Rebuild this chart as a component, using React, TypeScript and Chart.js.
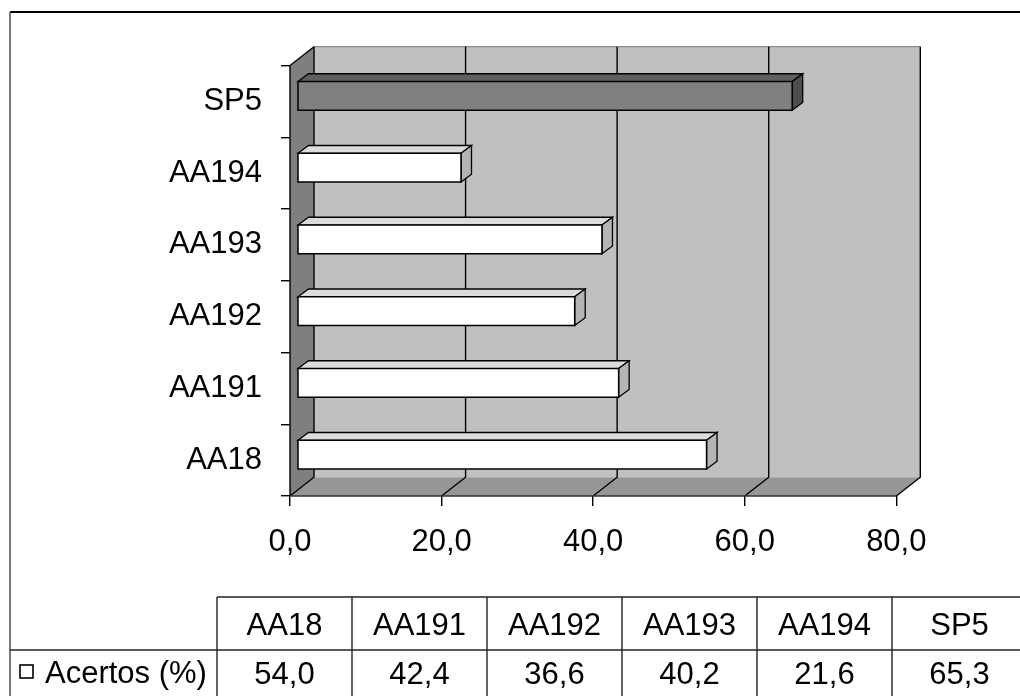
import React, { useEffect, useRef } from "react";
import { Chart, registerables } from "chart.js";

Chart.register(...registerables);

// Categories (bottom to top on the chart, left to right in the table)
const categories = ["AA18", "AA191", "AA192", "AA193", "AA194", "SP5"];
// Percentage of correct answers per sample
const acertos = [54.0, 42.4, 36.6, 40.2, 21.6, 65.3];
const seriesName = "Acertos (%)";
const highlighted = "SP5";
// Value-axis ticks
const valueTicks = [0, 20, 40, 60, 80];

const FONT = '"Liberation Sans", Arial, Helvetica, sans-serif';
const FONT_SIZE = 31;
const fmt = (v: number) => v.toFixed(1).replace(".", ",");

// 3-D projection offsets
const WALL = { dx: 24, dy: -18.8 };
const BAR_OFF = { dx: 7.3, dy: -5.5 };
const BAR_DEPTH = { dx: 10.5, dy: -7.8 };

type Pt = [number, number];

function fillPoly(ctx: CanvasRenderingContext2D, pts: Pt[], fill: string, stroke?: string, lw = 1) {
  ctx.beginPath();
  ctx.moveTo(pts[0][0], pts[0][1]);
  for (let i = 1; i < pts.length; i++) ctx.lineTo(pts[i][0], pts[i][1]);
  ctx.closePath();
  ctx.fillStyle = fill;
  ctx.fill();
  if (stroke) {
    ctx.strokeStyle = stroke;
    ctx.lineWidth = lw;
    ctx.lineJoin = "miter";
    ctx.stroke();
  }
}

function polyline(ctx: CanvasRenderingContext2D, pts: Pt[], color: string, lw: number) {
  ctx.beginPath();
  ctx.moveTo(pts[0][0], pts[0][1]);
  for (let i = 1; i < pts.length; i++) ctx.lineTo(pts[i][0], pts[i][1]);
  ctx.strokeStyle = color;
  ctx.lineWidth = lw;
  ctx.stroke();
}

// Back wall, side wall, floor and the gridlines on them; then the 3-D bars
const wallsPlugin = {
  id: "walls3d",
  beforeDatasetsDraw(chart: any) {
    const { ctx, chartArea: a } = chart;
    const xs = chart.scales.x;
    const { dx, dy } = WALL;
    const L = a.left, R = a.right, T = a.top, B = a.bottom;
    ctx.save();
    fillPoly(ctx, [[L + dx, T + dy], [R + dx, T + dy], [R + dx, B + dy], [L + dx, B + dy]], "#c0c0c0");
    fillPoly(ctx, [[L, B], [R, B], [R + dx, B + dy], [L + dx, B + dy]], "#969696");
    fillPoly(ctx, [[L, T], [L + dx, T + dy], [L + dx, B + dy], [L, B]], "#7f7f7f");

    // top edge of the back wall
    polyline(ctx, [[L + dx, T + dy], [R + dx, T + dy]], "#8a8a8a", 1.2);

    for (const v of valueTicks) {
      const px = xs.getPixelForValue(v);
      polyline(ctx, [[px + dx, T + dy], [px + dx, B + dy], [px, B]], "#000", 1.4);
    }
    // front floor edge and side wall edges
    polyline(ctx, [[L, B], [R, B]], "#333", 1.4);
    polyline(ctx, [[L, B], [L, T], [L + dx, T + dy]], "#000", 1.4);
    ctx.restore();
  },
  afterDatasetsDraw(chart: any) {
    const { ctx } = chart;
    const meta = chart.getDatasetMeta(0);
    ctx.save();
    meta.data.forEach((el: any, i: number) => {
      const { x, y, base, height } = el.getProps(["x", "y", "base", "height"], true);
      const hi = categories[i] === highlighted;
      const x0 = base + BAR_OFF.dx;
      const x1 = x + BAR_OFF.dx;
      const top = y - height / 2 + BAR_OFF.dy;
      const bot = y + height / 2 + BAR_OFF.dy;
      const { dx, dy } = BAR_DEPTH;
      const front = hi ? "#808080" : "#ffffff";
      const topC = hi ? "#5f5f5f" : "#dcdcdc";
      const side = hi ? "#4e4e4e" : "#b4b4b4";
      fillPoly(ctx, [[x0, top], [x1, top], [x1 + dx, top + dy], [x0 + dx, top + dy]], topC, "#000", 1.3);
      fillPoly(ctx, [[x1, top], [x1 + dx, top + dy], [x1 + dx, bot + dy], [x1, bot]], side, "#000", 1.3);
      fillPoly(ctx, [[x0, top], [x1, top], [x1, bot], [x0, bot]], front, "#000", 1.5);
    });
    ctx.restore();
  },
};

// Outer frame and the data table underneath the plot
const tablePlugin = {
  id: "dataTable",
  afterDraw(chart: any) {
    const { ctx } = chart;
    const colStart = 217;
    const colW = 135;
    const headTop = 597;
    const rowSep = 650;
    const bottom = 696;
    ctx.save();
    // frame
    polyline(ctx, [[10, 12], [1020, 12]], "#000", 1.8);
    polyline(ctx, [[10, 12], [10, bottom]], "#555", 1.6);

    // table grid
    polyline(ctx, [[colStart, headTop], [1020, headTop]], "#222", 1.4);
    polyline(ctx, [[10, rowSep], [1020, rowSep]], "#222", 1.4);
    for (let i = 0; i < categories.length; i++) {
      const cx = colStart + colW * i;
      polyline(ctx, [[cx, headTop], [cx, bottom]], "#222", 1.4);
    }

    ctx.fillStyle = "#000";
    ctx.font = `${FONT_SIZE}px ${FONT}`;
    ctx.textAlign = "center";
    ctx.textBaseline = "alphabetic";
    categories.forEach((c, i) => {
      const cx = colStart + colW * (i + 0.5);
      ctx.fillText(c, cx, 635);
      ctx.fillText(fmt(acertos[i]), cx, 684);
    });

    // legend key + series name
    ctx.fillStyle = "#fff";
    ctx.fillRect(20, 665, 13, 13);
    ctx.strokeStyle = "#000";
    ctx.lineWidth = 1.6;
    ctx.strokeRect(20, 665, 13, 13);
    ctx.fillStyle = "#000";
    ctx.textAlign = "left";
    ctx.fillText(seriesName, 45, 683);
    ctx.restore();
  },
};

export default function App() {
  const canvasRef = useRef<HTMLCanvasElement | null>(null);

  useEffect(() => {
    const canvas = canvasRef.current;
    if (!canvas) return;
    Chart.defaults.font.family = FONT;
    Chart.defaults.color = "#000";

    const chart = new Chart(canvas, {
      type: "bar",
      data: {
        labels: categories,
        datasets: [
          {
            label: seriesName,
            data: acertos,
            backgroundColor: "rgba(0,0,0,0)",
            borderWidth: 0,
            barPercentage: 0.4,
            categoryPercentage: 1,
          },
        ],
      },
      options: {
        indexAxis: "y",
        responsive: false,
        animation: false,
        devicePixelRatio: 1,
        layout: { padding: { left: 0, top: 65.5, right: 123.7, bottom: 140 } },
        plugins: {
          legend: { display: false },
          tooltip: { enabled: false },
        },
        scales: {
          x: {
            type: "linear",
            min: 0,
            max: 80,
            afterBuildTicks: (scale: any) => {
              scale.ticks = valueTicks.map((v) => ({ value: v }));
            },
            afterFit: (scale: any) => {
              scale.height = 60;
            },
            ticks: {
              autoSkip: false,
              maxRotation: 0,
              padding: 18,
              font: { size: FONT_SIZE },
              color: "#000",
              callback: (v: any) => fmt(Number(v)),
            },
            grid: {
              drawOnChartArea: false,
              drawTicks: true,
              tickLength: 10,
              color: "#000",
              lineWidth: 1.4,
            },
            border: { display: false },
          },
          y: {
            type: "category",
            reverse: true,
            afterFit: (scale: any) => {
              scale.width = 290;
            },
            ticks: {
              autoSkip: false,
              padding: 19,
              font: { size: FONT_SIZE },
              color: "#000",
            },
            grid: {
              offset: true,
              drawOnChartArea: false,
              drawTicks: true,
              tickLength: 9,
              color: "#000",
              lineWidth: 1.4,
            },
            border: { display: false },
          },
        },
      },
      plugins: [wallsPlugin, tablePlugin],
    } as any);

    return () => chart.destroy();
  }, []);

  return (
    <div style={{ position: "absolute", left: 0, top: 0, width: 1020, height: 696, background: "#fff" }}>
      <canvas ref={canvasRef} width={1020} height={696} style={{ width: 1020, height: 696, display: "block" }} />
    </div>
  );
}
